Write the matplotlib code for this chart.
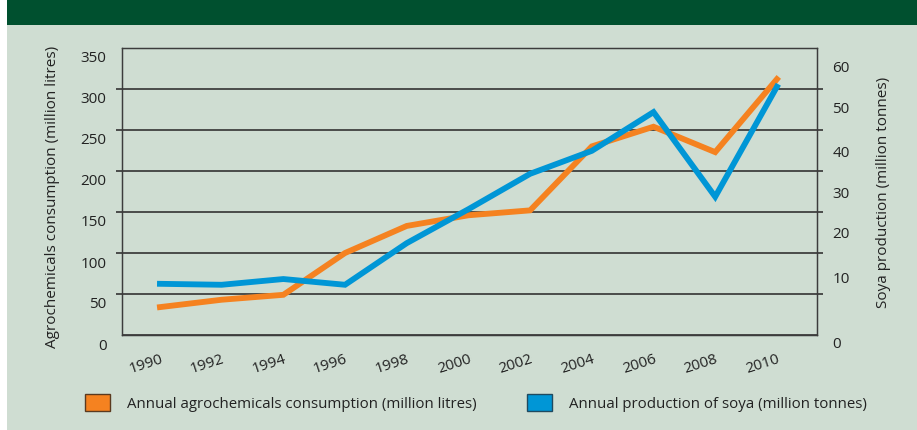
import matplotlib
matplotlib.use("Agg")
from matplotlib import pyplot as plt
from matplotlib.patches import Patch, Rectangle
from matplotlib.transforms import ScaledTranslation

plt.rcParams['font.family'] = ['Open Sans', 'DejaVu Sans']

# data
years = [1990, 1992, 1994, 1996, 1998, 2000, 2002, 2004, 2006, 2008, 2010]
agrochemicals = [34, 43, 49, 100, 133, 146, 152, 230, 254, 223, 312]  # million litres
soya = [10.7, 10.5, 11.7, 10.5, 19.2, 26.3, 33.7, 38.5, 46.6, 28.9, 51.9]  # million tonnes

left_ticks = [0, 50, 100, 150, 200, 250, 300, 350]
right_ticks = [0, 10, 20, 30, 40, 50, 60]

agro_label = "Annual agrochemicals consumption (million litres)"
soya_label = "Annual production of soya (million tonnes)"

ORANGE = "#F58220"
BLUE = "#0096D6"
BG = "#CFDDD2"
BANNER = "#00502F"
DARK = "#333333"
TXT = "#222222"

fig = plt.figure(figsize=(9.17, 4.30), dpi=100, facecolor="white")
# page background + header banner
fig.patches.append(Rectangle((7 / 917, 0), 1, 1, transform=fig.transFigure,
                             facecolor=BG, edgecolor="none", zorder=-10))
fig.patches.append(Rectangle((7 / 917, 1 - 25 / 430), 1, 25 / 430, transform=fig.transFigure,
                             facecolor=BANNER, edgecolor="none", zorder=-9))

ax = fig.add_axes([122 / 917, 95 / 430, 695 / 917, 287 / 430])
ax.set_facecolor("none")
ax2 = ax.twinx()

ax.plot(years, agrochemicals, color=ORANGE, lw=4.2, solid_joinstyle="miter", zorder=3)
ax2.plot(years, soya, color=BLUE, lw=4.2, solid_joinstyle="miter", zorder=3)

ax.set_xlim(1988.77, 2011.3)
ax.set_ylim(0, 350)
ax2.set_ylim(0, 60)

for a in (ax, ax2):
    for sp in a.spines.values():
        sp.set_color("#3c3c3c")
        sp.set_linewidth(0.9)

ax.set_yticks(left_ticks)
ax.grid(axis="y", color=DARK, lw=1.2)
ax.set_axisbelow(True)
ax.tick_params(axis="y", left=True, right=True, length=4, width=1.2, color=DARK,
               direction="out", labelsize=11, pad=7, labelcolor=TXT)
for t in (ax.yaxis.get_major_ticks()[0], ax.yaxis.get_major_ticks()[-1]):
    t.tick1line.set_visible(False)
    t.tick2line.set_visible(False)
# left labels sit a little below their gridlines in the original
for lab in ax.get_yticklabels():
    lab.set_transform(lab.get_transform() + ScaledTranslation(0, -9 / 100, fig.dpi_scale_trans))

ax2.set_yticks(right_ticks)
ax2.tick_params(axis="y", length=0, labelsize=11, pad=11, labelcolor=TXT)
right_shift = [7, -10, -7, 1, 8, 12, 19]  # px, as placed in the original
for lab, dy in zip(ax2.get_yticklabels(), right_shift):
    lab.set_transform(lab.get_transform() + ScaledTranslation(0, -dy / 100, fig.dpi_scale_trans))

ax.set_xticks(years)
ax.set_xticklabels([str(y) for y in years])
ax.tick_params(axis="x", length=0, labelsize=11, pad=12, labelcolor=TXT)
for lab in ax.get_xticklabels():
    lab.set_rotation(18)
    lab.set_ha("right")
    lab.set_rotation_mode("anchor")

ax.set_ylabel("Agrochemicals consumption (million litres)", fontsize=11, color=TXT)
ax.yaxis.label.set_va("center")
ax.yaxis.set_label_coords(-0.1007, 0.48)
ax2.set_ylabel("Soya production (million tonnes)", fontsize=11, color=TXT)
ax2.yaxis.label.set_va("center")
ax2.yaxis.set_label_coords(1.0964, 0.497)

handles = [Patch(facecolor=ORANGE, edgecolor="#5a3a20", lw=1.0, label=agro_label),
           Patch(facecolor=BLUE, edgecolor="#204a60", lw=1.0, label=soya_label)]
fig.legend(handles=handles, loc="center left", bbox_to_anchor=(85 / 917, 27 / 430),
           ncol=2, frameon=False, fontsize=10.8, borderpad=0, borderaxespad=0,
           handlelength=1.67, handleheight=1.33, handletextpad=1.13, columnspacing=3.33,
           labelcolor=TXT)

fig.savefig("out.png", dpi=100, facecolor=fig.get_facecolor())
